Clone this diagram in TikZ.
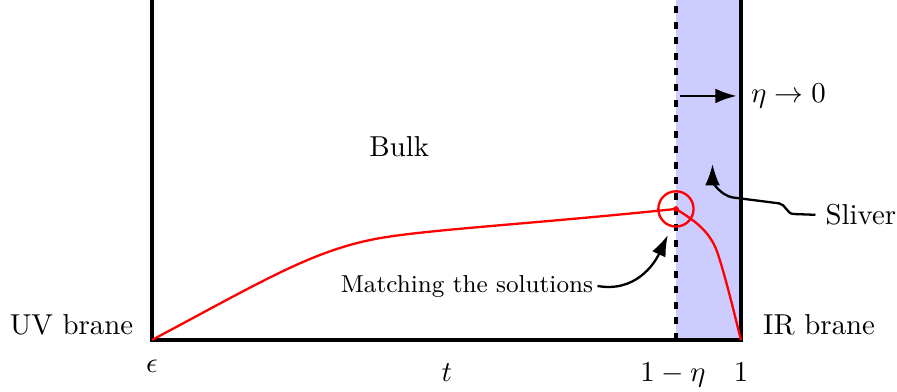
\documentclass[tikz,border=0pt]{standalone}
\usepackage{amsmath}
\usepackage{amssymb}
\usetikzlibrary{arrows.meta}

\begin{document}
\begin{tikzpicture}[wall/.style={line width=1.6pt},
	pointer/.style={thick, -{Latex[length=2.6mm,width=1.8mm]}},
	sol/.style={red, thick}]
	\useasboundingbox (0,0) rectangle (10.94,4.78);
	
	% sliver
	\fill[blue!20] (8.244,0.634) rectangle (9.037,4.78);
	\draw[wall, dash pattern=on 2.4pt off 3pt] (8.244,0.634) -- (8.244,4.78);
	
	% branes and bulk
	\draw[wall] (1.854,4.78) -- (1.854,0.634) -- (9.037,0.634) -- (9.037,4.78);
	
	\node (uv) at (0.872,0.82) {UV brane};
	\node (ir) at (9.99,0.82) {IR brane};
	\node (bulk) at (4.87,2.99) {Bulk};
	
	\node[anchor=base] (eps) at (1.854,0.232) {\(\epsilon\)};
	\node[anchor=base] (tlab) at (5.45,0.122) {\(t\)};
	\node[anchor=base] (oneeta) at (8.207,0.122) {\(1-\eta\)};
	\node[anchor=base] (one) at (9.037,0.122) {\(1\)};
	
	% solution
	\coordinate (solPt) at (8.244,2.232);
	\draw[sol] (1.854,0.634) .. controls (3.2,1.35) and (3.8,1.72) .. (4.6,1.87)
		.. controls (5.2,1.98) and (6.5,2.05) .. (solPt);
	\draw[sol] (solPt) .. controls (8.45,2.1) and (8.65,1.98) .. (8.75,1.7)
		.. controls (8.85,1.4) and (8.97,0.9) .. (9.037,0.634);
	\node[draw=red, thick, circle, minimum size=0.43cm, inner sep=0pt] (matchCircle) at (solPt) {};
	\fill[red] (solPt) circle (0.035);
	
	% labels
	\node[font=\fontsize{8.5}{10}\selectfont] (match) at (5.695,1.28) {Matching the solutions};
	\coordinate (matchTip) at (8.146,1.915);
	\draw[pointer, shorten <=-2pt] (match.east) to[out=-10,in=-115] (matchTip);
	
	\node[anchor=west] (eta) at (9.037,3.61) {\(\eta\to 0\)};
	\coordinate (etaFrom) at (8.29,3.61);
	\draw[pointer, shorten >=1.5pt] (etaFrom) -- (eta.west);
	
	\node (sliver) at (10.5,2.16) {Sliver};
	\coordinate (sliverTip) at (8.69,2.78);
	\draw[pointer] (sliver.west) -- (9.68,2.17) to[out=180,in=-7] (9.5,2.3)
		-- (8.95,2.37) to[out=172,in=-90] (sliverTip);
\end{tikzpicture}
\end{document}
